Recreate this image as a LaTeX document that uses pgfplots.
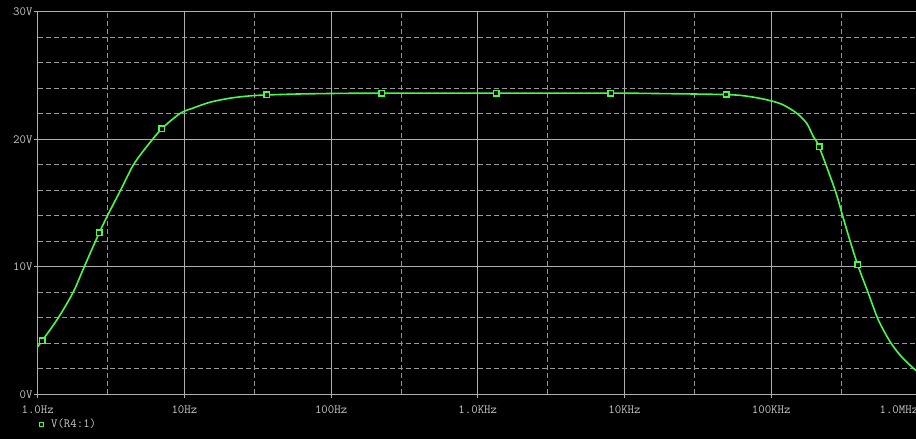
\documentclass[border=0pt]{standalone}
\usepackage{pgfplots}
\pgfplotsset{compat=1.18}
\definecolor{trace}{RGB}{72,250,72}
\definecolor{majgrid}{RGB}{175,175,175}
\definecolor{mingrid}{RGB}{150,150,150}
\definecolor{txt}{RGB}{200,200,200}
\pgfplotstableread{
f v
1 3.73
1.070 4.18
1.382 6.00
1.748 8.02
2.078 10.01
2.630 12.67
3.048 14.20
3.680 16.02
4.484 17.98
5.534 19.42
7.00 20.81
9.33 22.02
11.5 22.45
14.94 22.90
20.46 23.22
28.0 23.40
36.4 23.47
61.4 23.55
127.8 23.60
222 23.61
1332 23.62
8090 23.61
12770 23.60
49200 23.50
71800 23.34
98300 23.03
120900 22.69
149200 22.04
174600 21.25
193700 20.20
211800 19.42
272300 16.02
307100 13.98
344500 12.04
388800 10.14
459400 7.92
537400 5.83
645700 4.13
755400 3.08
907000 2.16
1000000 1.75
}\trace
\pgfplotstableread{
f v
1.070 4.18
2.630 12.67
7.00 20.81
36.4 23.47
222 23.61
1332 23.62
8090 23.61
49200 23.50
211800 19.42
388800 10.14
}\marks
\begin{document}
\begin{tikzpicture}[x=1pt,y=1pt]
\fill[black] (0,0) rectangle (916,439);
\begin{axis}[
  at={(37.7pt,44.7pt)}, anchor=south west,
  scale only axis, width=880.2pt, height=382.6pt,
  xmode=log, xmin=1, xmax=1e6, ymin=0, ymax=30,
  xtick={1,10,100,1000,10000,100000},
  xticklabels={1.0Hz,10Hz,100Hz,1.0KHz,10KHz,100KHz},
  extra x ticks={1000000}, extra x tick labels={1.0MHz},
  extra x tick style={xticklabel style={anchor=north east, xshift=0.5pt}},
  minor xtick={3,30,300,3000,30000,300000},
  ytick={0,10,20,30}, yticklabels={0V,10V,20V,30V},
  minor ytick={2,4,6,8,12,14,16,18,22,24,26,28},
  grid=both,
  major grid style={majgrid, line width=1pt},
  minor grid style={mingrid, line width=1pt, dash pattern=on 5pt off 3pt},
  axis line style={majgrid, line width=1pt},
  tick style={majgrid, line width=1pt},
  tick align=outside, major tick length=4pt, minor tick length=0pt,
  xtick pos=left, ytick pos=left,
  ticklabel style={font=\ttfamily\fontsize{12.5}{14}\selectfont, text=txt},
  xticklabel style={anchor=north, inner sep=0pt, yshift=-7pt},
  yticklabel style={anchor=east, inner sep=0pt, xshift=-1pt},
  legend style={at={(0,0)}, anchor=north west, draw=none, fill=none,
    inner sep=0pt, outer sep=0pt, xshift=1.5pt, yshift=-23pt,
    font=\ttfamily\fontsize{12.5}{14}\selectfont, text=txt},
  legend cell align=left,
  legend image code/.code={\path[draw=none] (-2.4pt,0pt) -- (7.5pt,0pt); \path[draw=none] plot[mark=square*, mark size=2pt, mark options={draw=trace, fill=black, line width=0.9pt}] coordinates {(0pt,0pt)};},
]
\addplot[trace, line width=1.6pt, no marks, smooth] table[x=f,y=v] {\trace};
\addlegendentry{V(R4:1)}
\addplot[only marks, mark=square*, mark size=2.7pt, mark options={draw=trace, fill=black, line width=1.6pt}, forget plot] table[x=f,y=v] {\marks};
\end{axis}
\pgfresetboundingbox
\useasboundingbox (0,0) rectangle (916,439);
\end{tikzpicture}
\end{document}
